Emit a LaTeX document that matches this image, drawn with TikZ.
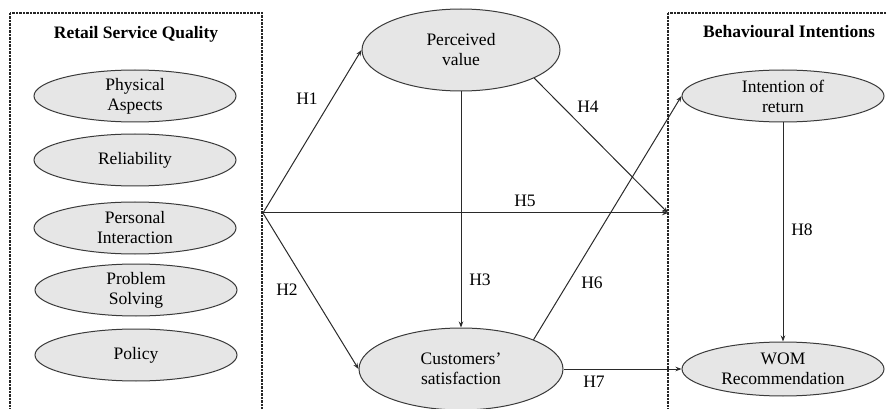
\documentclass[tikz,border=0pt]{standalone}
\usepackage{fontspec}
\setmainfont{Liberation Serif}
\usetikzlibrary{shapes.geometric,arrows.meta}
\definecolor{ellfill}{HTML}{E6E6E6}
\definecolor{ellline}{HTML}{3A3A3A}
\definecolor{lineclr}{HTML}{2A2A2A}
\tikzset{
  construct/.style={ellipse, draw=ellline, line width=1pt, fill=ellfill, inner sep=0pt,
    align=center, font=\fontsize{17.5}{20}\selectfont},
  small/.style={construct, minimum width=202pt, minimum height=52pt},
  big/.style={construct, minimum width=202pt, minimum height=82pt},
  groupbox/.style={draw=black!85, line width=1.1pt, dash pattern=on 2.2pt off 1.3pt},
  grouptitle/.style={font=\fontsize{17.5}{20}\selectfont\bfseries},
  hyp/.style={font=\fontsize{17.5}{20}\selectfont},
  link/.style={draw=lineclr, line width=1pt, -{Stealth[length=6pt,width=4.5pt]}}
}
\begin{document}
\begin{tikzpicture}[x=1pt,y=-1pt]
\useasboundingbox (0,0) rectangle (887,409);
\clip (0,0) rectangle (887,409);
% group boxes
\draw[groupbox] (10,13) rectangle (262,430);
\draw[groupbox] (668,13) rectangle (920,430);
\node[grouptitle] (rsqt) at (136,34) {Retail Service Quality};
\node[grouptitle] (bit) at (789,32) {Behavioural Intentions};
% left constructs
\node[small] (pa) at (135,96) {Physical\\Aspects};
\node[small] (rel) at (135,160) {Reliability};
\node[small] (pi) at (135,228) {Personal\\Interaction};
\node[small] (ps) at (136,290) {Problem\\Solving};
\node[small] (pol) at (136,355) {Policy};
% middle constructs
\node[big, minimum width=198pt] (pv) at (461,50) {Perceived\\value};
\node[big, minimum width=204pt] (cs) at (461,369) {Customers'\\satisfaction};
% right constructs
\node[small] (ir) at (783,96) {Intention of\\return};
\node[small, minimum height=54pt] (wom) at (783,369) {WOM\\Recommendation};
% connector points
\coordinate (src) at (263,213);
\coordinate (h5end) at (668,213);
% connectors
\draw[link] (src) -- (pv.west);
\draw[link] (src) -- (cs.west);
\draw[link] (src) -- (h5end);
\draw[link] (pv.-21) -- (h5end);
\draw[link] (pv.south) -- (cs.north);
\draw[link] (cs.22) -- (ir.west);
\draw[link] (cs.east) -- (wom.west);
\draw[link] (ir.south) -- (wom.north);
% labels
\node[hyp] (h1) at (307,99) {H1};
\node[hyp] (h2) at (287,290) {H2};
\node[hyp] (h3) at (480,280) {H3};
\node[hyp] (h4) at (588,107) {H4};
\node[hyp] (h5) at (525,201) {H5};
\node[hyp] (h6) at (592,283) {H6};
\node[hyp] (h7) at (594,382) {H7};
\node[hyp] (h8) at (802,230) {H8};
\end{tikzpicture}
\end{document}
